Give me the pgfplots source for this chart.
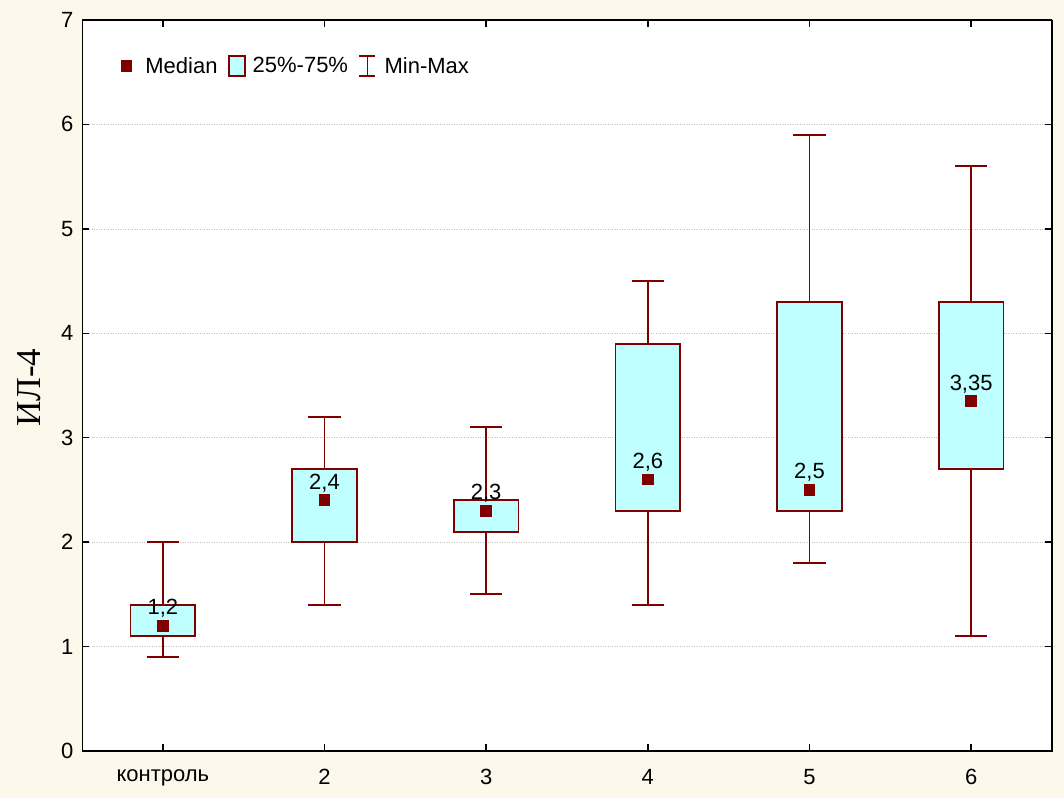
\documentclass[border=0pt]{standalone}
\usepackage{pgfplots}
\pgfplotsset{compat=1.18}
\usepgfplotslibrary{statistics}
\usepackage{fontspec}
\setmainfont{Liberation Sans}
\newfontfamily\seriffont{Liberation Serif}
\definecolor{bg}{HTML}{FDF8EC}
\definecolor{dred}{HTML}{800000}
\definecolor{boxc}{HTML}{C0FFFF}
\newcommand{\lf}{\fontsize{22}{26}\selectfont}
\begin{document}
\begin{tikzpicture}[x=1pt,y=1pt]
\fill[bg] (0,0) rectangle (1064,798);
\begin{axis}[at={(82pt,47pt)}, anchor=south west, scale only axis,
  width=970pt, height=731pt,
  xmin=-0.5, xmax=5.5, ymin=0, ymax=7,
  xtick={0,1,2,3,4,5}, xticklabels={контроль,2,3,4,5,6},
  ytick={0,1,2,3,4,5,6,7},
  /pgf/number format/assume math mode=true,
  axis background/.style={fill=white},
  tick align=inside, major tick length=7pt,
  tick style={black, line width=1.4pt},
  ticklabel style={font=\lf},
  xticklabel style={yshift=-15pt},
  yticklabel style={xshift=-5pt},
  ymajorgrids, grid style={dotted, gray!50, line width=0.6pt},
  ylabel={\seriffont ИЛ-4},
  ylabel style={font=\fontsize{35}{40}\selectfont, at={(axis description cs:-0.0546,0.497)}, anchor=center},
  boxplot/draw direction=y,
  boxplot/draw/median/.code={},
  legend columns=3,
  legend cell align=left,
  legend style={at={(axis description cs:0.0397,0.937)}, anchor=west,
    draw=none, fill=none, inner sep=0pt, outer sep=0pt, font=\lf,
    nodes={inner sep=0pt},
    column sep=7pt,
    /tikz/every even column/.append style={column sep=10.5pt}},
  bx/.style={draw=dred, fill=boxc, line width=1.9pt, solid, forget plot},
]
\addlegendimage{legend image code/.code={\fill[dred] (0pt,-5.4pt) rectangle (10.8pt,5.4pt); \path (17.5pt,0pt);}}
\addlegendentry{Median}
\addlegendimage{legend image code/.code={\filldraw[fill=boxc,draw=dred,line width=1.6pt] (0.8pt,-10pt) rectangle (16.8pt,10pt);}}
\addlegendentry{25\%-75\%}
\addlegendimage{legend image code/.code={\draw[dred,line width=1.6pt] (0pt,-10pt)--(16pt,-10pt) (8pt,-10pt)--(8pt,10pt) (0pt,10pt)--(16pt,10pt); \path (18pt,0pt);}}
\addlegendentry{Min-Max}

\addplot[bx, boxplot prepared={draw position=0, lower whisker=0.9, lower quartile=1.1, median=1.2, upper quartile=1.4, upper whisker=2.0, box extend=0.4, whisker extend=0.2}] coordinates {};
\addplot[bx, boxplot prepared={draw position=1, lower whisker=1.4, lower quartile=2.0, median=2.4, upper quartile=2.7, upper whisker=3.2, box extend=0.4, whisker extend=0.2}] coordinates {};
\addplot[bx, boxplot prepared={draw position=2, lower whisker=1.5, lower quartile=2.1, median=2.3, upper quartile=2.4, upper whisker=3.1, box extend=0.4, whisker extend=0.2}] coordinates {};
\addplot[bx, boxplot prepared={draw position=3, lower whisker=1.4, lower quartile=2.3, median=2.6, upper quartile=3.9, upper whisker=4.5, box extend=0.4, whisker extend=0.2}] coordinates {};
\addplot[bx, boxplot prepared={draw position=4, lower whisker=1.8, lower quartile=2.3, median=2.5, upper quartile=4.3, upper whisker=5.9, box extend=0.4, whisker extend=0.2}] coordinates {};
\addplot[bx, boxplot prepared={draw position=5, lower whisker=1.1, lower quartile=2.7, median=3.35, upper quartile=4.3, upper whisker=5.6, box extend=0.4, whisker extend=0.2}] coordinates {};

\addplot[only marks, mark=square*, mark size=5.4pt, color=dred, mark options={draw=dred, fill=dred, line width=0pt},
  nodes near coords, point meta=explicit symbolic,
  nodes near coords style={anchor=base, inner sep=0pt, yshift=11pt, font=\lf, text=black}, forget plot]
  table[meta=label] {
x y label
0 1.2 {1,2}
1 2.4 {2,4}
2 2.3 {2,3}
3 2.6 {2,6}
4 2.5 {2,5}
5 3.35 {3,35}
};
\draw[black, line width=2.4pt] (rel axis cs:0,0) rectangle (rel axis cs:1,1);
\end{axis}
\end{tikzpicture}
\end{document}
